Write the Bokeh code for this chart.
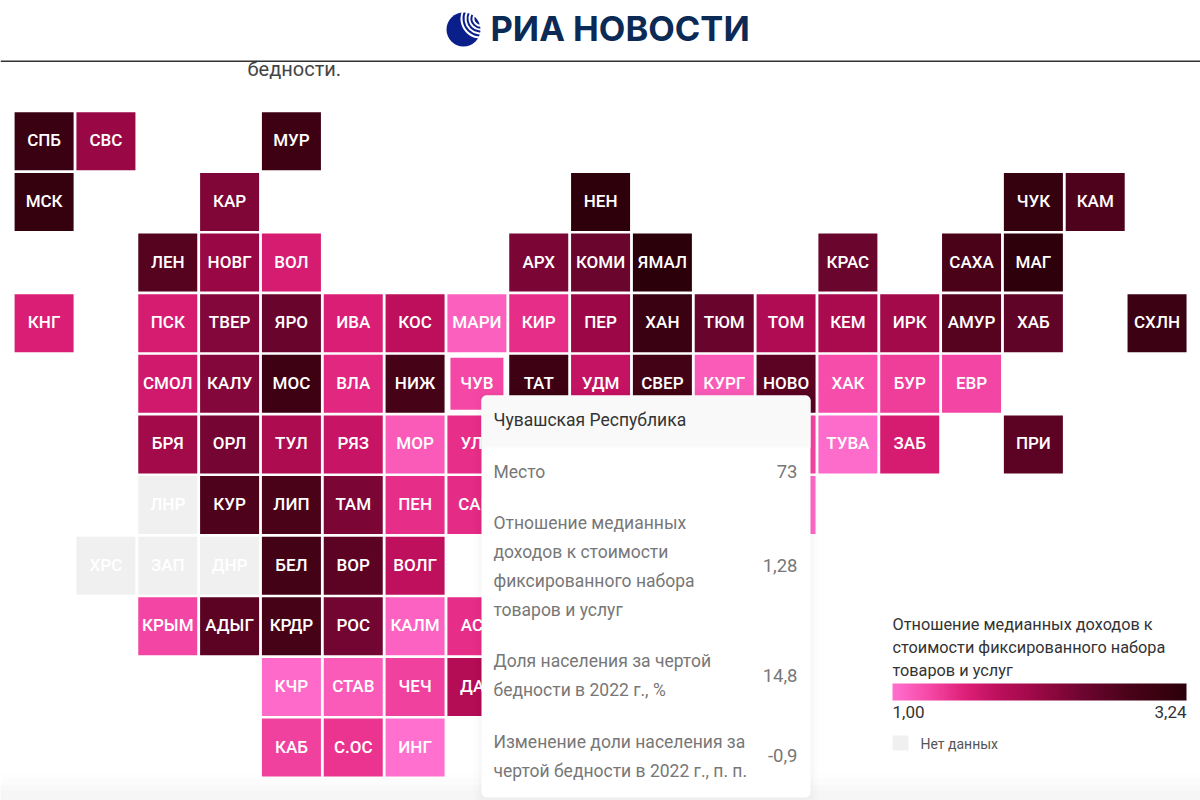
from bokeh.embed import file_html
from bokeh.resources import INLINE
from bokeh.plotting import figure
from bokeh.models import ColumnDataSource, LinearColorMapper, ColorBar, Range1d, FixedTicker
from bokeh.core.properties import value
from bokeh.transform import transform
import numpy as np

# ---------- data ----------
regions = ["СПБ","СВС","МУР",
           "МСК","КАР","НЕН","ЧУК","КАМ",
           "ЛЕН","НОВГ","ВОЛ","АРХ","КОМИ","ЯМАЛ","КРАС","САХА","МАГ",
           "КНГ","ПСК","ТВЕР","ЯРО","ИВА","КОС","МАРИ","КИР","ПЕР","ХАН","ТЮМ","ТОМ","КЕМ","ИРК","АМУР","ХАБ","СХЛН",
           "СМОЛ","КАЛУ","МОС","ВЛА","НИЖ","ТАТ","УДМ","СВЕР","КУРГ","НОВО","ХАК","БУР","ЕВР",
           "БРЯ","ОРЛ","ТУЛ","РЯЗ","МОР","УЛЬ","","ТУВА","ЗАБ","ПРИ",
           "ЛНР","КУР","ЛИП","ТАМ","ПЕН","САМ"," ",
           "ХРС","ЗАП","ДНР","БЕЛ","ВОР","ВОЛГ",
           "КРЫМ","АДЫГ","КРДР","РОС","КАЛМ","АСТ",
           "КЧР","СТАВ","ЧЕЧ","ДАГ",
           "КАБ","С.ОС","ИНГ"]
cols = [0,1,4,
        0,3,9,16,17,
        2,3,4,8,9,10,13,15,16,
        0,2,3,4,5,6,7,8,9,10,11,12,13,14,15,16,18,
        2,3,4,5,6,8,9,10,11,12,13,14,15,
        2,3,4,5,6,7,12,13,14,16,
        2,3,4,5,6,7,12,
        1,2,3,4,5,6,
        2,3,4,5,6,7,
        4,5,6,7,
        4,5,6]
rows = [0,0,0,
        1,1,1,1,1,
        2,2,2,2,2,2,2,2,2,
        3,3,3,3,3,3,3,3,3,3,3,3,3,3,3,3,3,
        4,4,4,4,4,4,4,4,4,4,4,4,4,
        5,5,5,5,5,5,5,5,5,5,
        6,6,6,6,6,6,6,
        7,7,7,7,7,7,
        8,8,8,8,8,8,
        9,9,9,9,
        10,10,10]
values = [3.05,2.12,2.98,
          3.10,2.32,3.20,3.10,2.75,
          2.68,2.12,1.62,2.35,2.48,3.24,2.48,2.80,3.20,
          1.58,1.62,2.28,2.50,1.58,1.80,1.12,1.46,2.10,3.05,2.50,1.92,1.98,2.05,2.68,2.60,3.00,
          1.66,2.28,2.98,1.50,2.85,2.98,1.74,2.90,1.15,2.62,1.25,1.35,1.30,
          2.05,2.40,1.95,1.72,1.15,1.45,1.30,1.03,1.62,2.62,
          None,2.75,2.80,2.35,1.46,1.48,1.05,
          None,None,None,2.90,2.62,1.78,
          1.30,2.62,2.85,2.42,1.10,1.46,
          1.05,1.15,1.33,1.88,
          1.33,1.42,1.00]

hover_label = "ЧУВ"
hover_col, hover_row, hover_value = 7, 4, 1.28

legend_title = ["Отношение медианных доходов к", "стоимости фиксированного набора", "товаров и услуг"]
legend_low, legend_high = 1.00, 3.24
legend_low_text, legend_high_text = "1,00", "3,24"
nodata_text = "Нет данных"

tip_title = "Чувашская Республика"
tip_lines = ["Место", "Отношение медианных", "доходов к стоимости", "фиксированного набора", "товаров и услуг",
             "Доля населения за чертой", "бедности в 2022 г., %",
             "Изменение доли населения за", "чертой бедности в 2022 г., п. п."]
tip_values = ["73", "1,28", "14,8", "-0,9"]
intro_tail = "бедности."
brand = "РИА НОВОСТИ"

stop_values = [1.00, 1.28, 1.55, 1.80, 2.12, 2.45, 2.80, 3.24]
stop_colors = ["#ff70cf", "#f548a6", "#de2078", "#bd0f5c", "#9a0845", "#6e0530", "#4a0219", "#2c000b"]

# ---------- palette ----------
def rgb(h):
    return [int(h[i:i + 2], 16) for i in (1, 3, 5)]
grid = np.linspace(legend_low, legend_high, 256)
chan = np.array([np.interp(grid, stop_values, [rgb(c)[k] for c in stop_colors]) for k in range(3)]).T
palette = ["#%02x%02x%02x" % tuple(int(round(v)) for v in c) for c in chan]
NODATA = "#f0f0f0"
mapper = LinearColorMapper(palette=palette, low=legend_low, high=legend_high, nan_color=NODATA)

# ---------- figure; grid units on the main scales, page pixels on the "px" scales ----------
W, H = 1200, 800
OX, OY = 0, 0
PX0, PY0 = 43.6, 140.8       # centre of cell (0,0) in page pixels
DX, DY = 61.83, 60.63        # cell pitch
p = figure(width=W, height=H, output_backend="svg", toolbar_location=None,
           x_range=Range1d((OX - PX0) / DX, (OX + W - PX0) / DX),
           y_range=Range1d((OY + H - PY0) / DY, (OY - PY0) / DY),
           min_border=0, outline_line_color=None)
p.axis.visible = False
p.xgrid.visible = False
p.ygrid.visible = False
p.extra_x_ranges["px"] = Range1d(OX, OX + W)
p.extra_y_ranges["px"] = Range1d(OY + H, OY)
PX = dict(x_range_name="px", y_range_name="px")
L, R = OX, OX + W

# bottom page fade
for top, col in [(772, "#fefefe"), (778, "#fcfcfc"), (784, "#f9f9f9"), (790, "#f6f6f6")]:
    p.quad(left=[L], right=[R], top=[top], bottom=[OY + H], fill_color=col, line_color=None, **PX)

# tiles
vals = [float("nan") if v is None else v for v in values]
src = ColumnDataSource(dict(col=cols, row=rows, v=vals, name=regions))
p.rect(x="col", y="row", width=59 / DX, height=58 / DY, source=src,
       fill_color=transform("v", mapper), line_color=None)
hover = ColumnDataSource(dict(col=[hover_col], row=[hover_row], v=[hover_value], name=[hover_label]))
p.rect(x="col", y="row", width=53 / DX, height=52 / DY, source=hover,
       fill_color=transform("v", mapper), line_color=None)
for s in (src, hover):
    p.text(x="col", y="row", text="name", source=s, text_color="#ffffff", text_align="center",
           text_baseline="middle", text_font=value("Roboto Medium"), text_font_size="17px", y_offset=-1)

# intro tail cut by the header
p.text(x=[247], y=[68], text=[intro_tail], text_font=value("Roboto"), text_font_size="20px",
       text_color="#444444", text_baseline="middle", **PX)
p.quad(left=[L], right=[R], top=[OY], bottom=[60], fill_color="#ffffff", line_color=None, **PX)
p.quad(left=[L], right=[R], top=[60], bottom=[61.5], fill_color="#333333", line_color=None, **PX)

# logo
p.circle(x=[463], y=[29], radius=17, fill_color="#0a1f8a", line_color=None, **PX)
for r in (7, 11, 15, 19):
    p.arc(x=[480], y=[18], radius=r, start_angle=0.85 * np.pi, end_angle=1.65 * np.pi,
          line_color="#ffffff", line_width=2, **PX)
p.text(x=[490], y=[28], text=[brand], text_font=value("Inter"), text_font_size="34.5px",
       text_font_style="bold", text_color="#0b2a56", text_baseline="middle", **PX)

# tooltip
for grow, a in [(8, 0.006), (5, 0.008), (3, 0.01), (1, 0.012)]:
    p.quad(left=[481 - grow], right=[810 + grow], top=[395 - grow], bottom=[797 + grow],
           fill_color="#000000", fill_alpha=a, line_color=None, border_radius=6, **PX)
p.quad(left=[481], right=[810], top=[395], bottom=[797], fill_color="#ffffff", line_color=None,
       border_radius=5, **PX)
p.quad(left=[481], right=[810], top=[395], bottom=[447], fill_color="#f9f9f9", line_color=None,
       border_radius=(5, 5, 0, 0), **PX)
p.text(x=[493], y=[419], text=[tip_title], text_font=value("Roboto"), text_font_size="17.5px",
       text_color="#333333", text_baseline="middle", **PX)
tip_y = [471, 522, 551, 580, 609, 660, 689, 741, 770]
p.text(x=[493] * len(tip_lines), y=tip_y, text=tip_lines, text_font=value("Roboto"), text_font_size="17.5px",
       text_color="#777777", text_baseline="middle", **PX)
p.text(x=[797] * len(tip_values), y=[471, 565, 675, 755], text=tip_values, text_font=value("Roboto"),
       text_font_size="18.5px", text_color="#777777", text_align="right", text_baseline="middle", **PX)

# legend
p.text(x=[892] * 3, y=[624, 647, 670], text=legend_title, text_font=value("Roboto"), text_font_size="16.3px",
       text_color="#333333", text_baseline="middle", **PX)
bar = ColorBar(color_mapper=mapper, orientation="horizontal", width=294, height=17,
               location=(892 - OX, H - (700 - OY)), major_label_text_font_size="0px",
               major_tick_line_color=None, minor_tick_line_color=None, bar_line_color=None,
               ticker=FixedTicker(ticks=[]), padding=0, margin=0, background_fill_alpha=0,
               border_line_color=None)
p.add_layout(bar, "center")
p.text(x=[892], y=[711], text=[legend_low_text], text_font=value("Roboto"), text_font_size="17px",
       text_color="#333333", text_baseline="middle", **PX)
p.text(x=[1186], y=[711], text=[legend_high_text], text_font=value("Roboto"), text_font_size="17px",
       text_color="#333333", text_align="right", text_baseline="middle", **PX)
p.quad(left=[892], right=[908], top=[735], bottom=[750], fill_color=NODATA, line_color=None, **PX)
p.text(x=[920], y=[743], text=[nodata_text], text_font=value("Roboto"), text_font_size="14px",
       text_color="#555555", text_baseline="middle", **PX)

open("out.html", "w").write(file_html(p, INLINE))
